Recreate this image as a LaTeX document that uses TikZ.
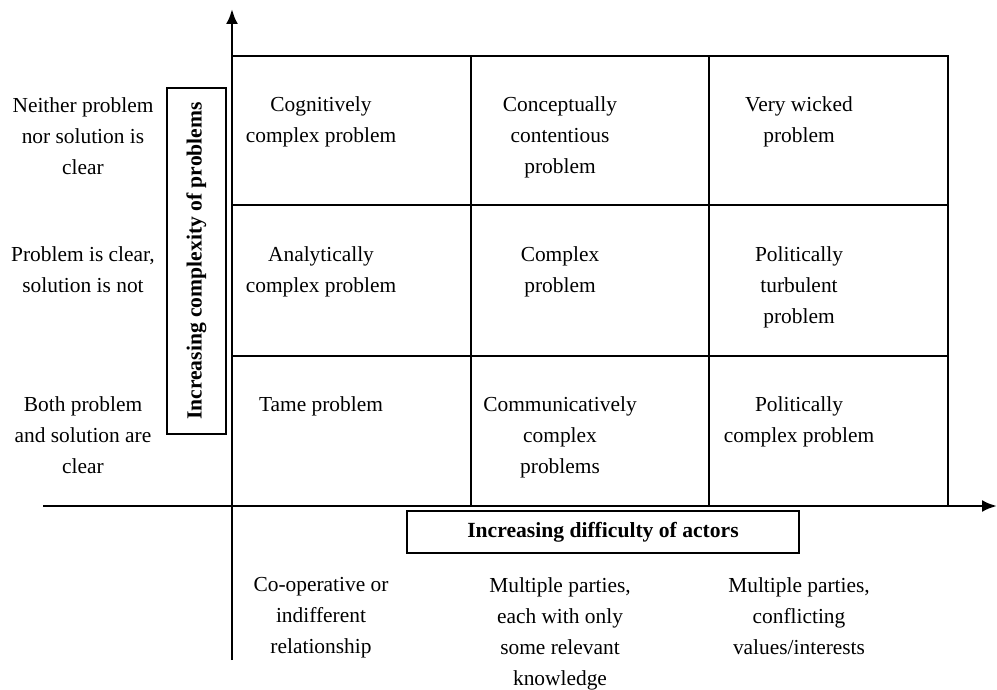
\documentclass[tikz,border=0pt]{standalone}
\usepackage{fontspec}
\setmainfont{Liberation Serif}
\usetikzlibrary{arrows.meta,positioning}

\begin{document}
\begin{tikzpicture}[x=1pt,y=-1pt,
  font=\fontsize{21.4}{31}\selectfont,
  cell/.style={anchor=north,align=center,inner sep=0pt},
  axislabel/.style={draw,line width=1.3pt,font=\fontsize{21.6}{24}\selectfont\bfseries,inner sep=0pt},
  axis/.style={-{Latex[length=15pt,width=12pt]},line width=2.7pt},
  grid/.style={line width=1.4pt}
]
\useasboundingbox (0,0) rectangle (997,690);
% the 3x3 matrix
\draw[grid] (232,56) rectangle (948,506);
\draw[grid] (471,56) -- (471,506);
\draw[grid] (709,56) -- (709,506);
\draw[grid] (232,205) -- (948,205);
\draw[grid] (232,356) -- (948,356);
% axes
\coordinate (origin) at (232,506);
\coordinate (ytop) at (232,9);
\coordinate (ybot) at (232,660);
\coordinate (xleft) at (43,506);
\coordinate (xright) at (997,506);
\draw[axis] (ybot) -- (ytop);
\draw[axis] (xleft) -- (xright);
% axis titles
\node[axislabel,rotate=90,minimum width=346,minimum height=59] (ytitle) at (196.5,261) {Increasing complexity of problems};
\node[axislabel,minimum width=392,minimum height=42] (xtitle) at (603,532) {Increasing difficulty of actors};
% cells
\node[cell] (cogn) at (321,96) {Cognitively\\complex problem};
\node[cell] (concept) at (560,96) {Conceptually\\contentious\\problem};
\node[cell] (wicked) at (799,96) {Very wicked\\problem};
\node[cell] (analyt) at (321,246) {Analytically\\complex problem};
\node[cell] (complex) at (560,246) {Complex\\problem};
\node[cell] (turbul) at (799,246) {Politically\\turbulent\\problem};
\node[cell] (tame) at (321,396) {Tame problem};
\node[cell] (communic) at (560,396) {Communicatively\\complex\\problems};
\node[cell] (polit) at (799,396) {Politically\\complex problem};
% row descriptions
\node[cell] (neither) at (83,97) {Neither problem\\nor solution is\\clear};
\node[cell] (probclear) at (83,246) {Problem is clear,\\solution is not};
\node[cell] (bothclear) at (83,396) {Both problem\\and solution are\\clear};
% column descriptions
\node[cell] (coop) at (321,577) {Co-operative or\\indifferent\\relationship};
\node[cell] (parties) at (560,577) {Multiple parties,\\each with only\\some relevant\\knowledge};
\node[cell] (conflict) at (799,577) {Multiple parties,\\conflicting\\values/interests};
\end{tikzpicture}
\end{document}
